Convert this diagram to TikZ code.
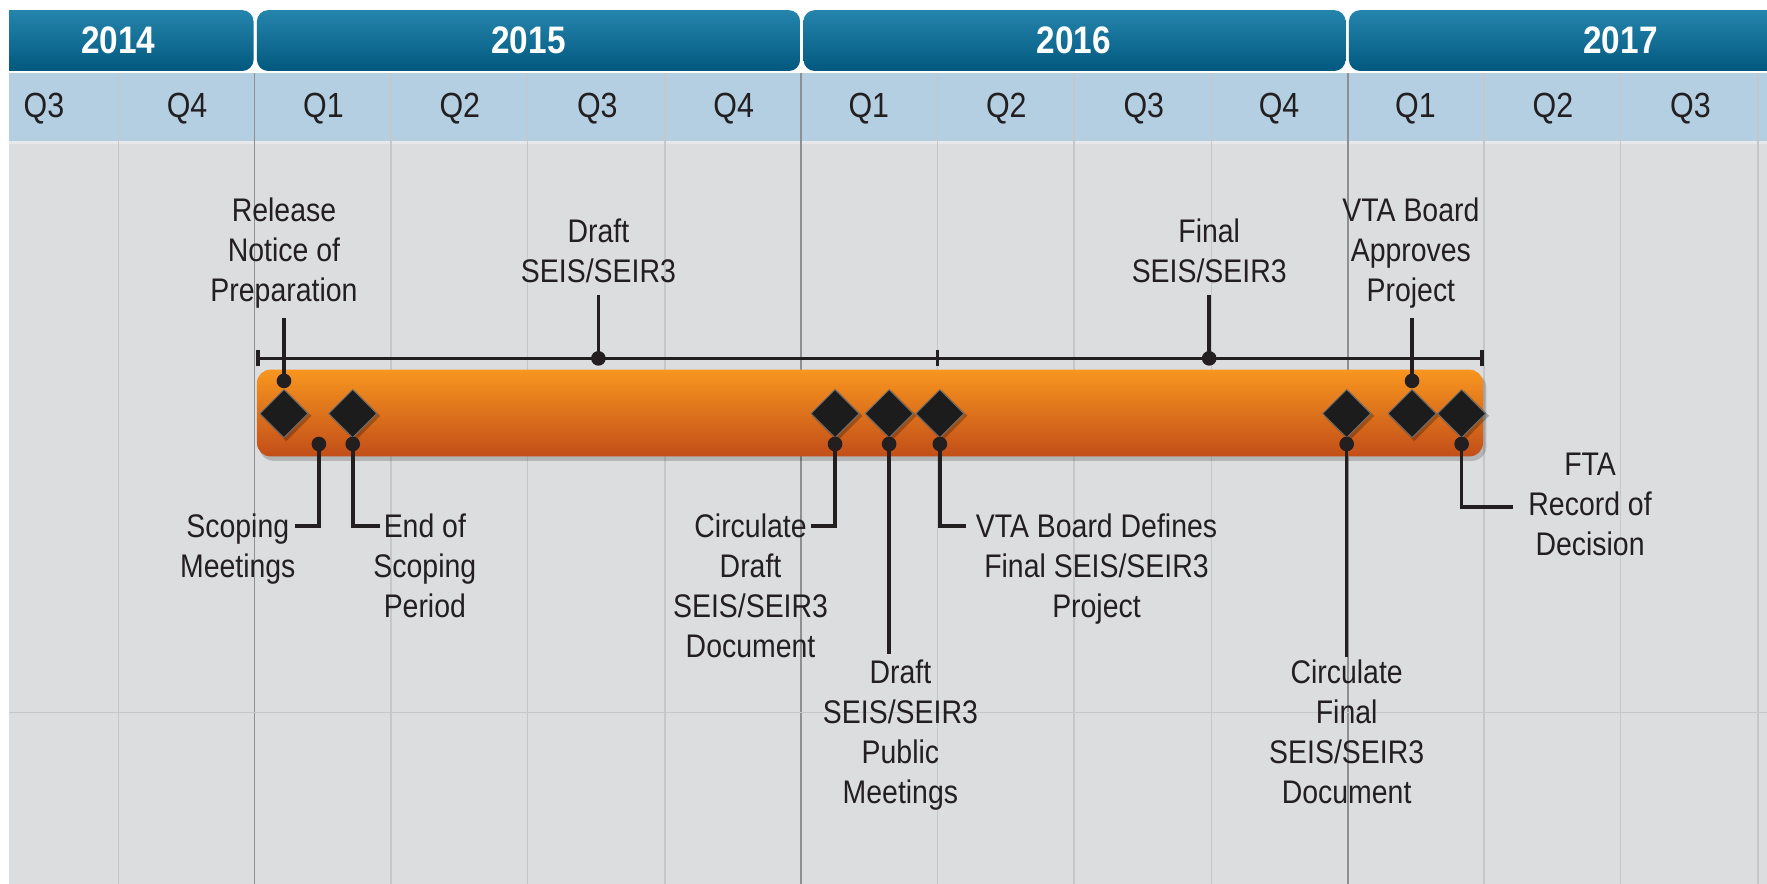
\documentclass[tikz,border=0pt]{standalone}
\usepackage{fontspec}
\setmainfont{Liberation Sans}[FakeStretch=0.87]
\usetikzlibrary{shapes.geometric}
\definecolor{bggrey}{HTML}{DCDDDF}
\definecolor{qblue}{HTML}{B4CFE2}
\definecolor{gridl}{HTML}{C6C7C9}
\definecolor{yearl}{HTML}{8E8F91}
\definecolor{ink}{HTML}{231F20}
\definecolor{ytop}{HTML}{2585AD}
\definecolor{ymid}{HTML}{0A6E97}
\definecolor{ybot}{HTML}{02587E}
\definecolor{otop}{HTML}{F8961F}
\definecolor{omid}{HTML}{F0821E}
\definecolor{obot}{HTML}{C24E19}
\definecolor{diafill}{HTML}{1C1C1C}
\tikzset{
  yearbox/.style={rounded corners=10pt, top color=ytop, middle color=ymid, bottom color=ybot},
  yeartext/.style={text=white, font=\bfseries\fontsize{34}{40}\selectfont, inner sep=0pt},
  qtext/.style={text=ink, font=\fontsize{31}{36}\selectfont, inner sep=0pt},
  lbl/.style={text=ink, font=\fontsize{29}{35.5}\selectfont, align=center, inner sep=0pt, anchor=north},
  conn/.style={draw=ink, line width=3.2pt},
  dot/.style={circle, fill=ink, inner sep=0pt, minimum size=13pt},
  dia/.style={diamond, fill=diafill, draw=black!55, line width=0.8pt, inner sep=0pt, minimum width=43pt, minimum height=43pt},
  diashadow/.style={diamond, fill=black, opacity=0.25, inner sep=0pt, minimum width=45pt, minimum height=45pt},
  qline/.style={draw=gridl, line width=1.2pt},
  yline/.style={draw=yearl, line width=1.4pt}
}
\begin{document}
\begin{tikzpicture}[x=1pt,y=-1pt]
\useasboundingbox (0,0) rectangle (1568,784);
\clip (0,0) rectangle (1568,784);
\fill[white] (0,0) rectangle (1568,784);
\fill[bggrey] (8,65) rectangle (1568,784);
\fill[qblue] (8,65) rectangle (1568,125);
\fill[white, opacity=0.35] (8,125) rectangle (1568,128);
% grid
\foreach \x in {105,347,468,590,832,953,1075,1317,1438,1560}
  \draw[qline] (\x,65) -- (\x,784);
\foreach \x in {226,711,1196}
  \draw[yline] (\x,65) -- (\x,784);
\draw[qline] (8,632) -- (1568,632);
% year boxes
\begin{scope}
\clip (8,0) rectangle (1568,70);
\shade[yearbox] (-20,9) rectangle (225,63);
\end{scope}
\shade[yearbox] (228,9) rectangle (710,63);
\shade[yearbox] (713,9) rectangle (1194,63);
\shade[yearbox] (1197,9) rectangle (1700,63);
\node[yeartext] (y14) at (105,36) {2014};
\node[yeartext] (y15) at (469,36) {2015};
\node[yeartext] (y16) at (953,36) {2016};
\node[yeartext] (y17) at (1438,36) {2017};
% quarters
\foreach \x/\q [count=\i] in {39/Q3,166/Q4,287/Q1,408/Q2,530/Q3,651/Q4,771/Q1,893/Q2,1015/Q3,1135/Q4,1256/Q1,1378/Q2,1500/Q3}
  \node[qtext] (q\i) at (\x,96) {\q};
% orange bar
\fill[black, opacity=0.18, rounded corners=13pt] (230,331) rectangle (1319,409);
\shade[rounded corners=12pt, top color=otop, middle color=omid, bottom color=obot] (228,328) rectangle (1316,405);
% range line
\coordinate (rL) at (229,318);
\coordinate (rM) at (832,318);
\coordinate (rR) at (1315,318);
\draw[conn] (rL) -- (rR);
\draw[conn] ([yshift=-7pt]rL) -- ([yshift=7pt]rL);
\draw[conn] ([yshift=-7pt]rM) -- ([yshift=7pt]rM);
\draw[conn] ([yshift=-7pt]rR) -- ([yshift=7pt]rR);
% diamonds
\foreach \x in {252,313,741,789,834,1195,1253,1297}
  \node[diashadow] at (\x+2,369) {};
\foreach \x [count=\i] in {252,313,741,789,834,1195,1253,1297}
  \node[dia] (k\i) at (\x,367) {};
% dots
\node[dot] (dRel) at (252,338) {};
\node[dot] (dDr) at (531,318) {};
\node[dot] (dFi) at (1073,318) {};
\node[dot] (dApp) at (1253,338) {};
\node[dot] (dSM) at (283,394) {};
\node[dot] (dES) at (313,394) {};
\node[dot] (dCD) at (741,394) {};
\node[dot] (dPM) at (789,394) {};
\node[dot] (dVD) at (834,394) {};
\node[dot] (dCF) at (1195,394) {};
\node[dot] (dFTA) at (1297,394) {};
% labels
\node[lbl] (lRel) at (252,175) {Release\\Notice of\\Preparation};
\node[lbl] (lDr) at (531,194) {Draft\\SEIS/SEIR3};
\node[lbl] (lFi) at (1073,194) {Final\\SEIS/SEIR3};
\node[lbl] (lApp) at (1252,175) {VTA Board\\Approves\\Project};
\node[lbl] (lSM) at (211,456) {Scoping\\Meetings};
\node[lbl] (lES) at (377,456) {End of\\Scoping\\Period};
\node[lbl] (lCD) at (666,456) {Circulate\\Draft\\SEIS/SEIR3\\Document};
\node[lbl] (lPM) at (799,585) {Draft\\SEIS/SEIR3\\Public\\Meetings};
\node[lbl] (lVD) at (973,456) {VTA Board Defines\\Final SEIS/SEIR3\\Project};
\node[lbl] (lCF) at (1195,585) {Circulate\\Final\\SEIS/SEIR3\\Document};
\node[lbl] (lFTA) at (1411,402) {FTA\\Record of\\Decision};
% connector ends
\coordinate (tRel) at (252,282);
\coordinate (tDr) at (531,262);
\coordinate (tFi) at (1073,262);
\coordinate (tApp) at (1253,282);
\coordinate (tSM) at (262,467);
\coordinate (tES) at (337,467);
\coordinate (tCD) at (720,467);
\coordinate (tPM) at (789,580);
\coordinate (tVD) at (857,467);
\coordinate (tCF) at (1195,583);
\coordinate (tFTA) at (1343,450);
% connectors
\draw[conn] (dRel.center) -- (tRel);
\draw[conn] (dDr.center) -- (tDr);
\draw[conn] (dFi.center) -- (tFi);
\draw[conn] (dApp.center) -- (tApp);
\draw[conn] (dSM.center) |- (tSM);
\draw[conn] (dES.center) |- (tES);
\draw[conn] (dCD.center) |- (tCD);
\draw[conn] (dPM.center) -- (tPM);
\draw[conn] (dVD.center) |- (tVD);
\draw[conn] (dCF.center) -- (tCF);
\draw[conn] (dFTA.center) |- (tFTA);
\end{tikzpicture}
\end{document}
